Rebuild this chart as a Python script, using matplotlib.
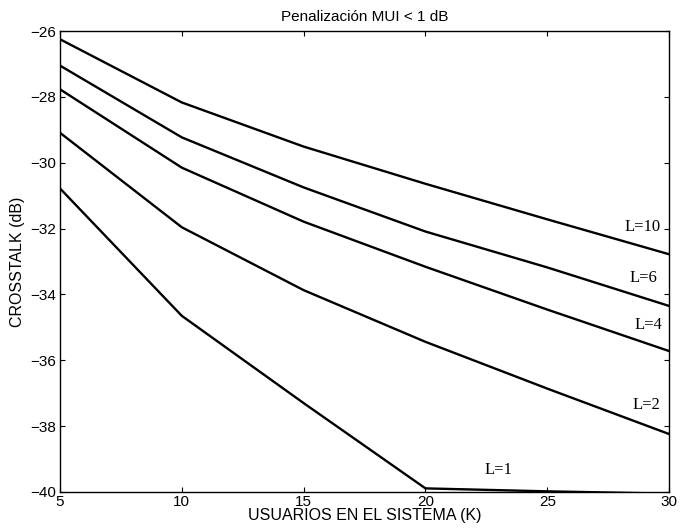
import numpy as np
import matplotlib
matplotlib.use('Agg')
import matplotlib.pyplot as plt

# Users in the system (K)
usuarios = [5, 10, 15, 20, 25, 30]

# Crosstalk (dB) for each L
xt_L10 = [-26.25, -28.17, -29.51, -30.64, -31.72, -32.78]
xt_L6 = [-27.05, -29.23, -30.75, -32.09, -33.18, -34.35]
xt_L4 = [-27.77, -30.15, -31.79, -33.16, -34.46, -35.72]
xt_L2 = [-29.09, -31.96, -33.87, -35.44, -36.86, -38.24]
xt_L1 = [-30.78, -34.65, -37.30, -39.89, -39.98, -40.05]

series = [xt_L10, xt_L6, xt_L4, xt_L2, xt_L1]
etiquetas = ['L=10', 'L=6', 'L=4', 'L=2', 'L=1']
# label anchor positions (data coords)
etiq_x = [28.15, 28.36, 28.57, 28.5, 22.42]
etiq_y = [-31.94, -33.5, -34.93, -37.35, -39.32]

plt.rcParams['font.family'] = ['Liberation Sans', 'DejaVu Sans']

fig = plt.figure(figsize=(6.8, 5.3), dpi=100)
ax = fig.add_axes([0.0882, 0.0717, 0.8958, 0.8698])

for ys in series:
    ax.plot(usuarios, ys, color='black', lw=1.7, clip_on=True)

for txt, x, y in zip(etiquetas, etiq_x, etiq_y):
    ax.text(x, y, txt, family=['Liberation Serif', 'DejaVu Serif'],
            fontsize=12, ha='left', va='center')

ax.set_xlim(5, 30)
ax.set_ylim(-40, -26)
ax.set_xticks(usuarios)
ax.set_yticks(np.arange(-40, -25, 2))
ax.tick_params(direction='in', top=True, right=True, length=3.5,
               width=0.8, labelsize=11, pad=2.5)
for s in ax.spines.values():
    s.set_linewidth(1.0)

ax.set_xlabel('USUARIOS EN EL SISTEMA (K)', fontsize=11.5, labelpad=-1)
ax.set_ylabel('CROSSTALK (dB)', fontsize=11.5, labelpad=4)
ax.set_title('Penalización MUI < 1 dB', fontsize=11, pad=7)

fig.savefig('out.png', dpi=100)
